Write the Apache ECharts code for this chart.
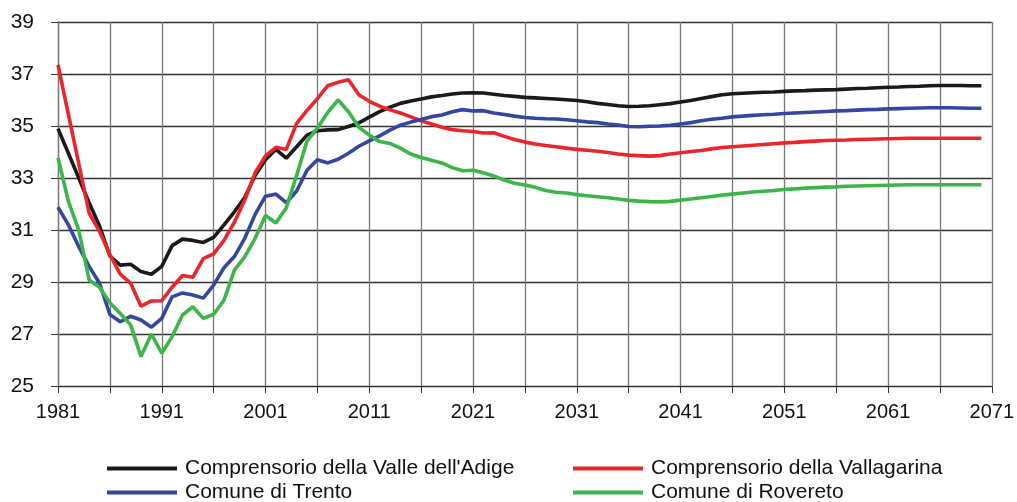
<!DOCTYPE html>
<html>
<head>
<meta charset="utf-8">
<script src="https://cdn.jsdelivr.net/npm/echarts@6/dist/echarts.min.js"></script>
<style>
  html, body { margin: 0; padding: 0; background: #fff; }
  #chart { width: 1017px; height: 502px; }
</style>
</head>
<body>
<div id="chart"></div>
<script>
// anni 1981 - 2071 (asse), dati fino al 2070
var years = [];
for (var y = 1981; y <= 2071; y++) years.push(String(y));

var valleAdige = [
  34.9, 33.95, 33.0, 32.05, 31.15, 30.0, 29.65, 29.68, 29.4, 29.3,
  29.6, 30.4, 30.65, 30.6, 30.52, 30.72, 31.2, 31.7, 32.25, 33.1,
  33.7, 34.1, 33.76, 34.2, 34.65, 34.82, 34.85, 34.86, 34.98, 35.12,
  35.34, 35.55, 35.72, 35.87, 35.96, 36.04, 36.12, 36.17, 36.23, 36.27,
  36.28, 36.27, 36.22, 36.17, 36.14, 36.1, 36.08, 36.06, 36.04, 36.01,
  35.98, 35.93, 35.87, 35.83, 35.78, 35.75, 35.76, 35.78, 35.82, 35.86,
  35.92, 35.98, 36.06, 36.13, 36.2, 36.24, 36.26, 36.28, 36.3, 36.31,
  36.33, 36.35, 36.36, 36.38, 36.39, 36.4, 36.42, 36.44, 36.45, 36.47,
  36.49, 36.5, 36.52, 36.53, 36.55, 36.56, 36.56, 36.56, 36.55, 36.55
];
var vallagarina = [
  37.35, 35.45, 33.55, 31.65, 30.95, 30.05, 29.3, 28.95, 28.07, 28.27,
  28.28, 28.8, 29.25, 29.18, 29.9, 30.08, 30.6, 31.3, 32.15, 33.2,
  33.85, 34.18, 34.1, 35.1, 35.6, 36.05, 36.55, 36.68, 36.78, 36.2,
  35.95, 35.76, 35.62, 35.5, 35.35, 35.2, 35.08, 34.95, 34.86, 34.82,
  34.79, 34.73, 34.74, 34.6, 34.48, 34.38, 34.31, 34.25, 34.2, 34.15,
  34.1, 34.07, 34.03, 33.98, 33.92, 33.88, 33.86, 33.84, 33.86, 33.92,
  33.97, 34.02, 34.06, 34.12, 34.17, 34.2, 34.23, 34.26, 34.29, 34.32,
  34.35, 34.37, 34.4, 34.42, 34.44, 34.45, 34.46, 34.48, 34.49, 34.5,
  34.51, 34.52, 34.53, 34.53, 34.53, 34.53, 34.53, 34.53, 34.53, 34.53
];
var trento = [
  31.88, 31.2, 30.36, 29.6, 28.95, 27.75, 27.47, 27.68, 27.54, 27.26,
  27.6, 28.43, 28.58, 28.5, 28.38, 28.88, 29.55, 29.98, 30.68, 31.6,
  32.3, 32.38, 32.05, 32.5, 33.3, 33.7, 33.58, 33.72, 33.95, 34.22,
  34.43, 34.62, 34.84, 35.03, 35.15, 35.25, 35.36, 35.42, 35.55, 35.63,
  35.58, 35.59, 35.5, 35.44, 35.38, 35.33, 35.3, 35.28, 35.27, 35.24,
  35.2, 35.16, 35.13, 35.08, 35.04, 34.98, 34.97, 34.99, 35.0, 35.03,
  35.08, 35.13, 35.2, 35.26, 35.3, 35.35, 35.38, 35.41, 35.43, 35.45,
  35.48, 35.5, 35.52, 35.54, 35.56, 35.58, 35.59, 35.61, 35.63, 35.64,
  35.66, 35.67, 35.68, 35.69, 35.7, 35.7, 35.7, 35.69, 35.68, 35.68
];
var rovereto = [
  33.78, 32.1, 31.0, 29.08, 28.8, 28.2, 27.79, 27.35, 26.13, 27.0,
  26.26, 26.9, 27.73, 28.05, 27.6, 27.76, 28.3, 29.46, 29.97, 30.68,
  31.56, 31.27, 31.85, 33.1, 34.42, 34.92, 35.52, 36.0, 35.55, 34.95,
  34.65, 34.4, 34.33, 34.15, 33.92, 33.79, 33.68, 33.58, 33.4, 33.28,
  33.3, 33.2, 33.08, 32.92, 32.8, 32.73, 32.64, 32.52, 32.45, 32.42,
  32.36, 32.32, 32.28, 32.24, 32.19, 32.14, 32.11, 32.09, 32.08, 32.1,
  32.15, 32.19, 32.24, 32.29, 32.34, 32.38, 32.42, 32.46, 32.49, 32.52,
  32.56, 32.58, 32.61, 32.63, 32.65, 32.66, 32.68, 32.69, 32.7, 32.71,
  32.72, 32.73, 32.74, 32.74, 32.74, 32.74, 32.74, 32.74, 32.74, 32.74
];

var font = "'Liberation Sans', Arial, sans-serif";

var myChart = echarts.init(document.getElementById('chart'));
function serie(name, data, color) {
  return {
    name: name,
    type: 'line',
    data: data,
    symbol: 'none',
    lineStyle: { color: color, width: 3.6 },
    itemStyle: { color: color }
  };
}
// una legenda per voce, per posizionarle a griglia 2x2
function legenda(name, left, top) {
  return {
    left: left,
    top: top,
    data: [name],
    icon: 'rect',
    itemWidth: 70,
    itemHeight: 4,
    textStyle: { fontFamily: font, fontSize: 21, color: '#111', padding: [0, 0, 0, 3] }
  };
}
myChart.setOption({
  animation: false,
  grid: { left: 58, right: 23, top: 22, bottom: 116 },
  legend: [
    legenda("Comprensorio della Valle dell'Adige", 102, 453),
    legenda('Comune di Trento', 102, 477),
    legenda('Comprensorio della Vallagarina', 568, 453),
    legenda('Comune di Rovereto', 568, 477)
  ],
  xAxis: {
    type: 'category',
    data: years,
    boundaryGap: false,
    axisLine: { lineStyle: { color: '#333', width: 1 } },
    axisTick: { interval: 4, length: 7, lineStyle: { color: '#333' } },
    axisLabel: { interval: 9, margin: 16, fontFamily: font, fontSize: 20, color: '#111' },
    splitLine: { show: true, interval: 4, lineStyle: { color: '#777', width: 1.3 } }
  },
  yAxis: {
    type: 'value',
    min: 25,
    max: 39,
    interval: 2,
    axisLine: { show: true, lineStyle: { color: '#777', width: 1.3 } },
    axisTick: { show: true, length: 7, lineStyle: { color: '#333' } },
    axisLabel: { margin: 24, fontFamily: font, fontSize: 21, color: '#111' },
    splitLine: { lineStyle: { color: '#333', width: 1.3 } }
  },
  series: [
    serie("Comprensorio della Valle dell'Adige", valleAdige, '#1a1a1a'),
    serie('Comprensorio della Vallagarina', vallagarina, '#e8262b'),
    serie('Comune di Trento', trento, '#3346a0'),
    serie('Comune di Rovereto', rovereto, '#3cb54a')
  ]
});
</script>
</body>
</html>
